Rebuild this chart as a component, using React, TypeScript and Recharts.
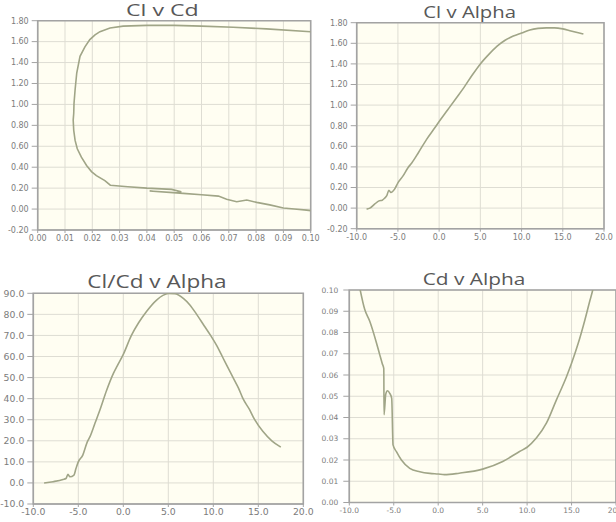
import React from 'react';
import { LineChart, Line, XAxis, YAxis, CartesianGrid, ReferenceArea } from 'recharts';

// ---------- Chart 1: Cl v Cd (polar, in order of increasing alpha) ----------
const polarCd = [0.1000, 0.0985, 0.0940, 0.0900, 0.0850, 0.0802, 0.0766, 0.0729, 0.0692, 0.0662, 0.0600, 0.0533, 0.0410, 0.0510, 0.0526, 0.0490, 0.0400, 0.0330, 0.0266, 0.0246, 0.0215, 0.0197, 0.0179, 0.0160, 0.0145, 0.0137, 0.0132, 0.0130, 0.0132, 0.0133, 0.0137, 0.0143, 0.0155, 0.0173, 0.0191, 0.0210, 0.0228, 0.0265, 0.0313, 0.0400, 0.0500, 0.0600, 0.0716, 0.0838, 0.1000];
const polarCl = [-0.015, -0.010, 0.000, 0.010, 0.040, 0.064, 0.086, 0.070, 0.093, 0.124, 0.137, 0.150, 0.172, 0.155, 0.165, 0.188, 0.200, 0.214, 0.228, 0.272, 0.320, 0.358, 0.416, 0.496, 0.576, 0.656, 0.752, 0.850, 0.915, 1.010, 1.140, 1.300, 1.460, 1.550, 1.620, 1.665, 1.695, 1.730, 1.748, 1.755, 1.755, 1.748, 1.737, 1.722, 1.695];

// ---------- Chart 2: Cl v Alpha ----------
const clAlpha = [-8.8, -8.4, -7.8, -7.3, -6.9, -6.6, -6.35, -6.1, -5.85, -5.4, -5.0, -4.4, -3.8, -3.3, -2.5, -1.5, -0.7, 0, 1, 2, 3, 4, 5, 6, 7, 8, 9, 10, 11, 12, 13, 14, 15, 16, 17, 17.5];
const clValues = [-0.01, 0.0, 0.04, 0.07, 0.077, 0.097, 0.12, 0.174, 0.152, 0.184, 0.245, 0.31, 0.39, 0.44, 0.54, 0.67, 0.76, 0.84, 0.95, 1.06, 1.17, 1.29, 1.40, 1.49, 1.57, 1.63, 1.67, 1.70, 1.73, 1.745, 1.75, 1.75, 1.74, 1.72, 1.70, 1.69];

// ---------- Chart 3: Cl/Cd v Alpha ----------
const ldAlpha = [-8.8, -7.8, -6.7, -6.37, -6.15, -5.93, -5.48, -5.26, -5.0, -4.5, -4.0, -3.7, -3.15, -2.6, -1.85, -1.1, -0.67, 0, 0.9, 1.7, 2.6, 3.7, 4.4, 5.0, 5.7, 6.7, 7.4, 8.15, 9.0, 9.7, 10.4, 11.0, 11.6, 12.2, 12.8, 13.3, 14.0, 14.6, 15.5, 16.5, 17.5];
const ldValues = [0, 0.6, 1.6, 2.1, 4.1, 2.9, 3.7, 6.8, 10, 13.2, 19.5, 22, 28.3, 34.6, 44, 52, 55.6, 61, 70, 76, 81.5, 86.8, 89, 89.9, 89.8, 87.5, 84.5, 80, 74.5, 70, 65, 60, 55, 50, 45, 40, 35, 30, 24.5, 20, 17];

// ---------- Chart 4: Cd v Alpha ----------
const cdAlpha = [-8.8, -8.27, -7.71, -6.95, -6.58, -6.28, -6.12, -6.09, -5.9, -5.71, -5.45, -5.23, -5.08, -4.7, -4.14, -3.2, -2.07, -0.94, 0, 0.7, 2.36, 5, 7.26, 9.15, 10, 11.04, 12.17, 13.3, 14.43, 15, 15.75, 16.5, 17.08, 17.38, 17.5];
const cdValues = [0.1005, 0.0909, 0.0854, 0.0752, 0.0696, 0.0652, 0.063, 0.0413, 0.051, 0.0526, 0.0514, 0.049, 0.0271, 0.0239, 0.020, 0.0161, 0.0145, 0.0137, 0.0134, 0.0131, 0.0138, 0.0157, 0.0193, 0.024, 0.026, 0.0303, 0.0373, 0.0483, 0.0592, 0.0655, 0.0749, 0.0859, 0.0953, 0.100, 0.1025];

// ---------- Axis ticks ----------
const cdTicks = [0, 0.01, 0.02, 0.03, 0.04, 0.05, 0.06, 0.07, 0.08, 0.09, 0.1];
const clTicks = [-0.2, 0, 0.2, 0.4, 0.6, 0.8, 1.0, 1.2, 1.4, 1.6, 1.8];
const alphaTicks = [-10, -5, 0, 5, 10, 15, 20];
const ldTicks = [-10, 0, 10, 20, 30, 40, 50, 60, 70, 80, 90];
const cdAxisTicks = [0, 0.01, 0.02, 0.03, 0.04, 0.05, 0.06, 0.07, 0.08, 0.09, 0.1];

const titles = ['Cl v Cd', 'Cl v Alpha', 'Cl/Cd v Alpha', 'Cd v Alpha'];

const LINE = '#a0a587';
const GRID = '#deddd3';
const BG = '#fffef2';
const BORDER = '#a3a3a3';
const TICKC = '#7c7c7c';

type PanelProps = {
  left: number; top: number; width: number; height: number;
  margin: { top: number; right: number; bottom: number; left: number };
  yWidth: number; xHeight: number;
  data: any[]; xKey: string; yKey: string; curve: 'linear' | 'monotone';
  xDomain: [number, number]; xTicks: number[]; xFmt: (v: number) => string;
  yDomain: [number, number]; yTicks: number[]; yFmt: (v: number) => string;
  fontSize: number; yTickSize: number; yTickMargin: number; xTickSize: number; xTickMargin: number;
};

function Panel(p: PanelProps) {
  const tickStyle = { fontSize: p.fontSize, fill: TICKC, fontFamily: 'DejaVu Sans' };
  return (
    <div style={{ position: 'absolute', left: p.left, top: p.top, width: p.width, height: p.height }}>
      <LineChart width={p.width} height={p.height} data={p.data} margin={p.margin}>
        <CartesianGrid stroke={GRID} fill={BG} strokeWidth={1} />
        <XAxis
          type="number" dataKey={p.xKey} domain={p.xDomain} ticks={p.xTicks} allowDataOverflow
          tickFormatter={p.xFmt} height={p.xHeight} tick={tickStyle}
          tickSize={p.xTickSize} tickMargin={p.xTickMargin}
          axisLine={{ stroke: BORDER }} tickLine={{ stroke: BORDER }} interval={0}
        />
        <YAxis
          type="number" domain={p.yDomain} ticks={p.yTicks} allowDataOverflow
          tickFormatter={p.yFmt} width={p.yWidth} tick={tickStyle}
          tickSize={p.yTickSize} tickMargin={p.yTickMargin}
          axisLine={{ stroke: BORDER }} tickLine={{ stroke: BORDER }} interval={0}
        />
        <ReferenceArea x1={p.xDomain[0]} x2={p.xDomain[1]} y1={p.yDomain[0]} y2={p.yDomain[1]}
          fill="none" stroke={BORDER} strokeWidth={1.6} ifOverflow="visible" />
        <Line type={p.curve} dataKey={p.yKey} stroke={LINE} strokeWidth={1.6} dot={false} isAnimationActive={false} />
      </LineChart>
    </div>
  );
}

export default function App() {
  const d1 = polarCd.map((cd, i) => ({ cd, cl: polarCl[i] }));
  const d2 = clAlpha.map((a, i) => ({ a, v: clValues[i] }));
  const d3 = ldAlpha.map((a, i) => ({ a, v: ldValues[i] }));
  const d4 = cdAlpha.map((a, i) => ({ a, v: cdValues[i] }));
  const f2 = (v: number) => v.toFixed(2);
  const f1 = (v: number) => v.toFixed(1);
  const titleStyle = { fontFamily: 'Open Sans', fill: '#585858' } as const;

  return (
    <div style={{ position: 'absolute', left: 0, top: 0, width: 616, height: 522, overflow: 'hidden', background: '#fff' }}>
      <Panel left={0} top={0} width={320} height={250}
        margin={{ top: 20.7, right: 9.3, bottom: 0, left: 0 }} yWidth={37.7} xHeight={20}
        data={d1} xKey="cd" yKey="cl" curve="linear" xDomain={[0, 0.1]} xTicks={cdTicks} xFmt={f2}
        yDomain={[-0.2, 1.8]} yTicks={clTicks} yFmt={f2}
        fontSize={8} yTickSize={6} yTickMargin={3} xTickSize={3} xTickMargin={2} />
      <Panel left={300} top={0} width={316} height={250}
        margin={{ top: 22.7, right: 12, bottom: 0, left: 16.7 }} yWidth={40} xHeight={21.3}
        data={d2} xKey="a" yKey="v" curve="monotone" xDomain={[-10, 20]} xTicks={alphaTicks} xFmt={f1}
        yDomain={[-0.2, 1.8]} yTicks={clTicks} yFmt={f2}
        fontSize={8} yTickSize={6} yTickMargin={3} xTickSize={3} xTickMargin={3} />
      <Panel left={0} top={260} width={320} height={262}
        margin={{ top: 33.3, right: 16.7, bottom: 0, left: 0 }} yWidth={33.3} xHeight={18}
        data={d3} xKey="a" yKey="v" curve="monotone" xDomain={[-10, 20]} xTicks={alphaTicks} xFmt={f1}
        yDomain={[-10, 90]} yTicks={ldTicks} yFmt={f1}
        fontSize={9.3} yTickSize={6} yTickMargin={3} xTickSize={3} xTickMargin={1} />
      <Panel left={300} top={260} width={330} height={262}
        margin={{ top: 30, right: 14, bottom: 0, left: 9.3 }} yWidth={40} xHeight={19.5}
        data={d4} xKey="a" yKey="v" curve="monotone" xDomain={[-10, 20]} xTicks={alphaTicks} xFmt={f1}
        yDomain={[0, 0.1]} yTicks={cdAxisTicks} yFmt={f2}
        fontSize={7.5} yTickSize={6} yTickMargin={5} xTickSize={3} xTickMargin={2} />
      <svg width={616} height={522} style={{ position: 'absolute', left: 0, top: 0, pointerEvents: 'none' }}>
        <text x={126} y={16} fontSize={15.5} textLength={72.7} lengthAdjust="spacingAndGlyphs" {...titleStyle}>{titles[0]}</text>
        <text x={423.3} y={18.3} fontSize={16.5} textLength={92.7} lengthAdjust="spacingAndGlyphs" {...titleStyle}>{titles[1]}</text>
        <text x={87.3} y={288.3} fontSize={18.7} textLength={139.3} lengthAdjust="spacingAndGlyphs" {...titleStyle}>{titles[2]}</text>
        <text x={422.7} y={285} fontSize={16.4} textLength={102.7} lengthAdjust="spacingAndGlyphs" {...titleStyle}>{titles[3]}</text>
      </svg>
    </div>
  );
}
